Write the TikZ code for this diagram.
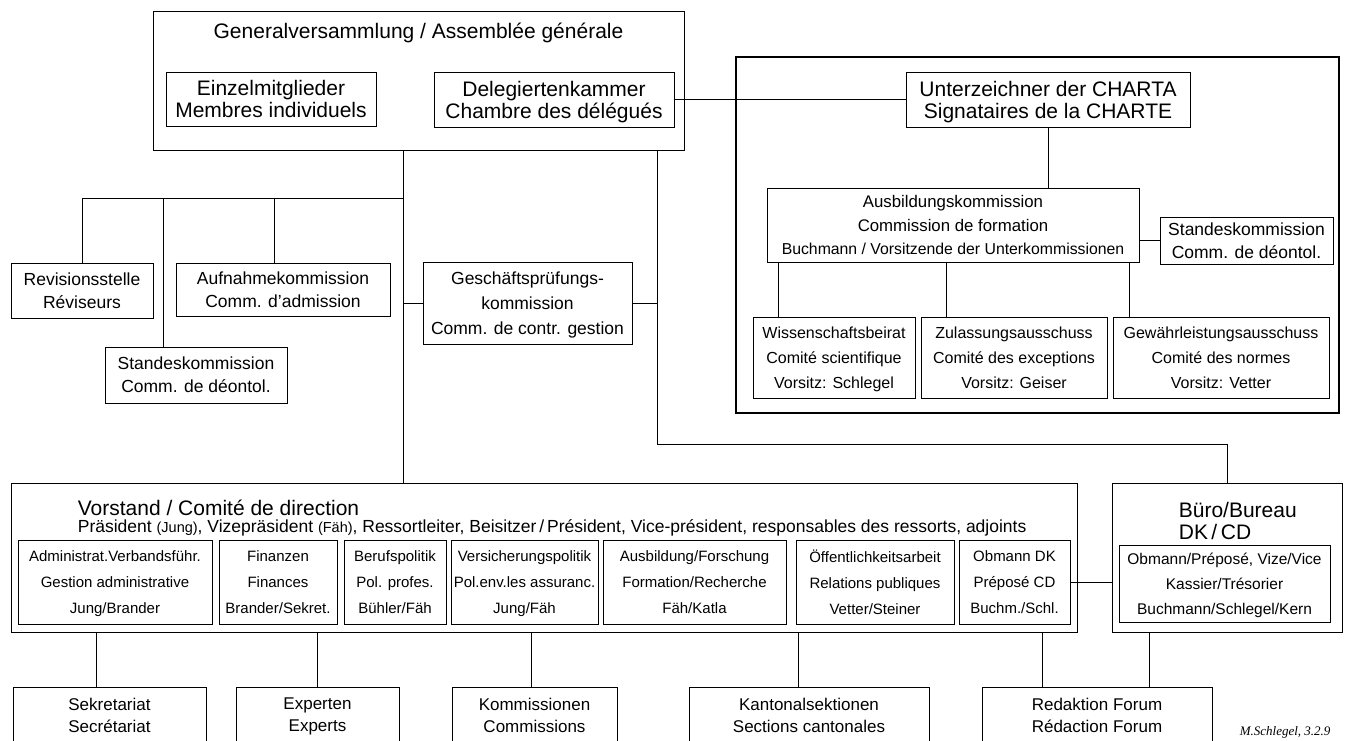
\documentclass[tikz,border=0pt]{standalone}
\usepackage{fontspec}
\setmainfont{Liberation Sans}
\newfontfamily\signfont{Liberation Serif}

\begin{document}
\begin{tikzpicture}[
  x=1pt,
  y=-1pt,
  line width=1pt,
  box/.style={
    rectangle,
    draw,
    align=center,
    inner sep=0pt,
    text depth=0pt
  },
  fbig/.style={font=\fontsize{21}{22}\selectfont},
  fmid/.style={font=\fontsize{17.5}{23}\selectfont},
  fgpk/.style={font=\fontsize{17.5}{25}\selectfont},
  fsub/.style={font=\fontsize{16}{25}\selectfont},
  fres/.style={font=\fontsize{15}{26}\selectfont},
  fbot/.style={font=\fontsize{17}{22}\selectfont},
  charterframe/.style={line width=2pt}
]
\useasboundingbox (0,0) rectangle (1345,740);
\clip (0,0) rectangle (1345,740);

% general assembly
\node[box, minimum width=531, minimum height=139] (gv) at (418.5,80.5) {};
\node[fbig] (gvtitle) at (418.5,33) {Generalversammlung / Assemblée générale};
\node[box, fbig, minimum width=210, minimum height=54] (einzel) at (271,99)
  {Einzelmitglieder\\Membres individuels};
\node[box, fbig, minimum width=240, minimum height=55] (deleg) at (554,99.5)
  {Delegiertenkammer\\Chambre des délégués};

% charter area
\draw[charterframe] (736,57) rectangle (1339,413);
\node[box, fbig, minimum width=284, minimum height=55] (charta) at (1048,99.5)
  {Unterzeichner der CHARTA\\Signataires de la CHARTE};
\node[box, font=\fontsize{16.8}{23.5}\selectfont, minimum width=372, minimum height=74]
  (ausb) at (953,225)
  {Ausbildungskommission\\Commission de formation\\
   {\fontsize{15.8}{15.8}\selectfont Buchmann / Vorsitzende der Unterkommissionen}};
\node[box, fmid, minimum width=173, minimum height=47] (standes2) at (1246.5,240.5)
  {Standeskommission\\Comm. de déontol.};
\node[box, fsub, minimum width=162, minimum height=81] (wiss) at (834,357.5)
  {Wissenschaftsbeirat\\Comité scientifique\\Vorsitz: Schlegel};
\node[box, fsub, minimum width=186, minimum height=81] (zul) at (1014,357.5)
  {Zulassungsausschuss\\Comité des exceptions\\Vorsitz: Geiser};
\node[box, fsub, minimum width=216, minimum height=81] (gew) at (1221,357.5)
  {Gewährleistungsausschuss\\Comité des normes\\Vorsitz: Vetter};

% commissions below the assembly
\node[box, fmid, minimum width=142, minimum height=55] (rev) at (82,290.5)
  {Revisionsstelle\\Réviseurs};
\node[box, fmid, minimum width=214, minimum height=53] (aufn) at (283,289.5)
  {Aufnahmekommission\\Comm. d'admission};
\node[box, fmid, minimum width=182, minimum height=56] (standes1) at (196,375)
  {Standeskommission\\Comm. de déontol.};
\node[box, fgpk, minimum width=209, minimum height=82] (gpk) at (527.5,303)
  {Geschäftsprüfungs-\\kommission\\Comm. de contr. gestion};

% board
\node[box, minimum width=1066, minimum height=149] (vorst) at (544,557.5) {};
\node[fbig, anchor=west] (vorsttitle) at (74,508) {Vorstand / Comité de direction};
\node[font=\fontsize{17.5}{17.5}\selectfont, anchor=west] (vorstsub) at (74,528)
  {Präsident {\fontsize{14.5}{15}\selectfont(Jung)}, Vizepräsident
   {\fontsize{14.5}{15}\selectfont(Fäh)}, Ressortleiter, Beisitzer\,/\,Président,
   Vice-président, responsables des ressorts, adjoints};
\node[box, fres, minimum width=194, minimum height=84] (adm) at (115,582)
  {Administrat.Verbandsführ.\\Gestion administrative\\Jung/Brander};
\node[box, fres, minimum width=118, minimum height=84] (fin) at (278,582)
  {Finanzen\\Finances\\Brander/Sekret.};
\node[box, fres, minimum width=102, minimum height=84] (beruf) at (395,582)
  {Berufspolitik\\Pol. profes.\\Bühler/Fäh};
\node[box, fres, minimum width=147, minimum height=84] (vers) at (524.5,582)
  {Versicherungspolitik\\Pol.env.les assuranc.\\Jung/Fäh};
\node[box, fres, minimum width=183, minimum height=84] (ausbf) at (694.5,582)
  {Ausbildung/Forschung\\Formation/Recherche\\Fäh/Katla};
\node[box, fres, minimum width=158, minimum height=84] (oeff) at (875,582)
  {Öffentlichkeitsarbeit\\Relations publiques\\Vetter/Steiner};
\node[box, fres, minimum width=111, minimum height=84] (obm) at (1014.5,582)
  {Obmann DK\\Préposé CD\\Buchm./Schl.};

% bureau
\node[box, minimum width=230, minimum height=149] (buero) at (1227,557.5) {};
\node[fbig, anchor=west, align=left] (buerotitle) at (1175,521)
  {Büro/Bureau\\DK\,/\,CD};
\node[box, font=\fontsize{15.5}{25}\selectfont, minimum width=211, minimum height=77]
  (bueroin) at (1224.5,583.5)
  {Obmann/Préposé, Vize/Vice\\Kassier/Trésorier\\Buchmann/Schlegel/Kern};

% bottom row
\node[box, fbot, minimum width=193, minimum height=56] (sekr) at (109.5,715)
  {Sekretariat\\Secrétariat};
\node[box, fbot, minimum width=163, minimum height=56] (exp) at (317.5,715)
  {Experten\\Experts};
\node[box, fbot, minimum width=165, minimum height=56] (komm) at (534.5,715)
  {Kommissionen\\Commissions};
\node[box, fbot, minimum width=240, minimum height=56] (kant) at (809,715)
  {Kantonalsektionen\\Sections cantonales};
\node[box, fbot, minimum width=230, minimum height=56] (red) at (1097,715)
  {Redaktion Forum\\Rédaction Forum};
\node[font=\signfont\itshape\fontsize{13}{13}\selectfont, anchor=base west]
  (sign) at (1236,735) {M.Schlegel, 3.2.9};

% connectors
\coordinate (trunk) at (403,198);
\coordinate (rtrunk) at (657,444);
\draw (trunk |- gv.south) -- (trunk |- vorst.north);
\draw (rev.north) |- (trunk);
\draw ([xshift=-33]standes1.north) -- ++(0,-149);
\draw ([xshift=-9]aufn.north) -- ++(0,-65);
\draw (trunk |- gpk.west) -- (gpk.west);
\draw (gpk.east) -- (rtrunk |- gpk.east);
\draw (rtrunk |- gv.south) -- (rtrunk) -| (buero.north);
\draw (deleg.east) -- (charta.west);
\draw (charta.south) -- (charta.south |- ausb.north);
\draw (standes2.west) -- (standes2.west -| ausb.east);
\draw ([xshift=12]ausb.south west) coordinate (s1) -- (s1 |- wiss.north);
\draw ([xshift=180]ausb.south west) coordinate (s2) -- (s2 |- zul.north);
\draw ([xshift=-10]ausb.south east) coordinate (s3) -- (s3 |- gew.north);
\draw (obm.east) -- (obm.east -| buero.west);
\draw ([xshift=-13.5]sekr.north) coordinate (b1) -- (b1 |- vorst.south);
\draw (exp.north) -- (exp.north |- vorst.south);
\draw ([xshift=-3.5]komm.north) coordinate (b3) -- (b3 |- vorst.south);
\draw ([xshift=-11]kant.north) coordinate (b4) -- (b4 |- vorst.south);
\draw ([xshift=-55]red.north) coordinate (b5) -- (b5 |- vorst.south);
\draw ([xshift=52]red.north) coordinate (b6) -- (b6 |- buero.south);
\end{tikzpicture}
\end{document}
